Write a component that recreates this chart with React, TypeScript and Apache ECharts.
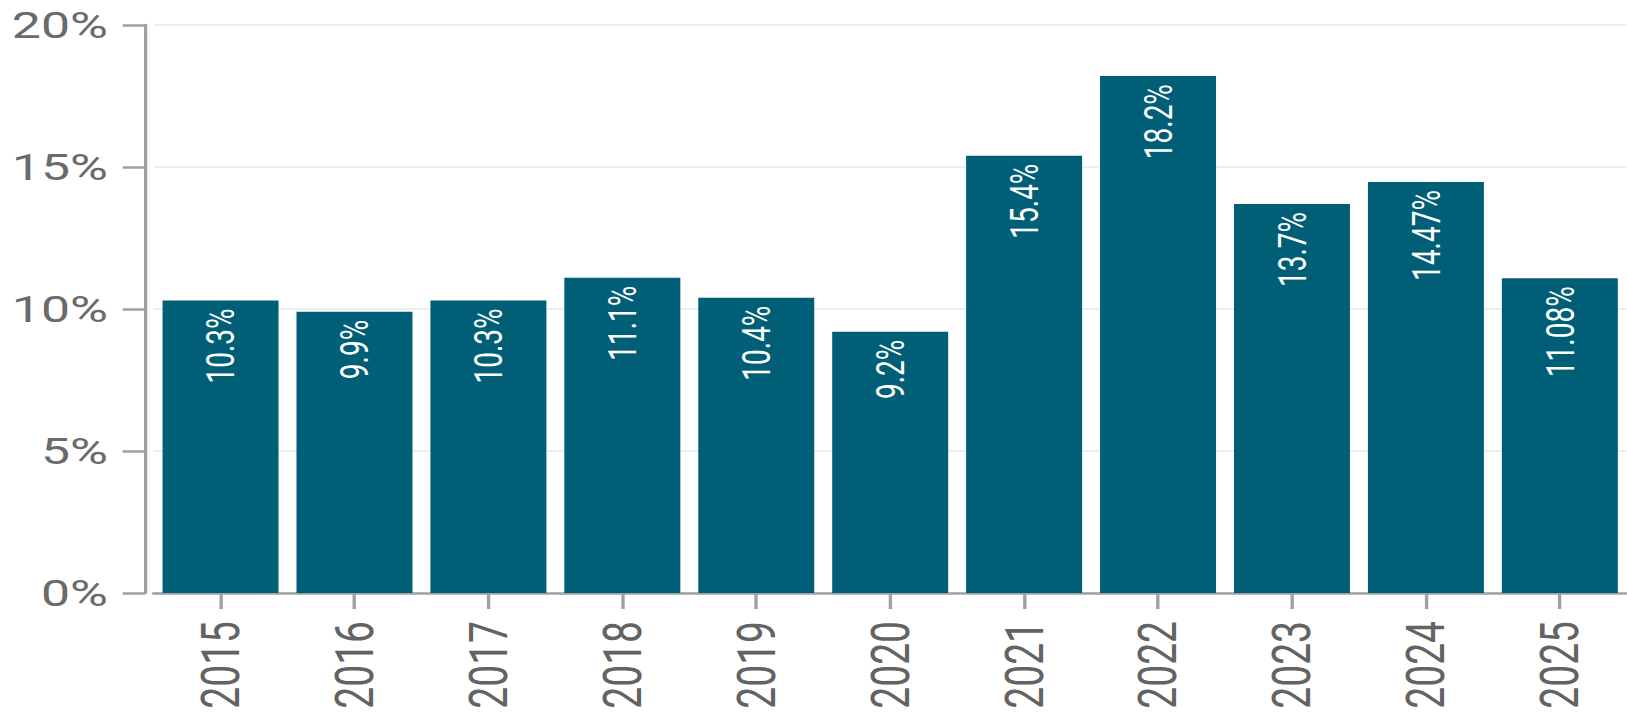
import React, { useEffect, useRef } from "react";
import * as echarts from "echarts";

const categories = ["2015", "2016", "2017", "2018", "2019", "2020", "2021", "2022", "2023", "2024", "2025"];
const values = [10.3, 9.9, 10.3, 11.1, 10.4, 9.2, 15.4, 18.2, 13.7, 14.47, 11.08];
const yTicks = { min: 0, max: 20, interval: 5 };

const SX = 1.4;
const SCREEN_W = 1627;
const SCREEN_H = 715;

export default function App() {
  const ref = useRef<HTMLDivElement>(null);
  useEffect(() => {
    if (!ref.current) return;
    const chart = echarts.init(ref.current, undefined, { renderer: "svg" });
    chart.setOption({
      animation: false,
      textStyle: { fontFamily: "Roboto" },
      grid: { left: 109.7, right: -1.3, top: 25, bottom: 122, containLabel: false },
      xAxis: {
        type: "category",
        data: categories,
        axisLine: { show: true, lineStyle: { color: "#a0a0a0", width: 2.5 } },
        axisTick: { show: true, alignWithLabel: true, length: 16, lineStyle: { color: "#a0a0a0", width: 2.4 } },
        axisLabel: { rotate: 90, margin: 28, fontSize: 39, color: "#636363", fontFamily: "Roboto" },
        splitLine: { show: false },
      },
      yAxis: {
        type: "value",
        min: yTicks.min,
        max: yTicks.max,
        interval: yTicks.interval,
        offset: 6.1,
        axisLine: { show: true, lineStyle: { color: "#a0a0a0", width: 2.3 } },
        axisTick: { show: true, length: 16, lineStyle: { color: "#a0a0a0", width: 2.5 } },
        axisLabel: { formatter: "{value}%", margin: 26.5, fontSize: 37, color: "#6a6a6a", fontFamily: "Roboto" },
        splitLine: { show: true, lineStyle: { color: "#eeeeee", width: 2 } },
      },
      series: [
        {
          type: "bar",
          data: values,
          barCategoryGap: "13.4%",
          itemStyle: { color: "#005f77" },
          label: {
            show: true,
            position: "insideTop",
            rotate: 90,
            align: "right",
            verticalAlign: "middle",
            distance: 8,
            color: "#ffffff",
            fontSize: 28,
            fontFamily: "Roboto",
            formatter: (p: any) => `${p.value}%`,
          },
        },
      ],
    });
    return () => chart.dispose();
  }, []);
  return (
    <div style={{ position: "absolute", left: 0, top: 0, width: SCREEN_W, height: SCREEN_H, overflow: "hidden", background: "#ffffff" }}>
      <div
        ref={ref}
        style={{
          width: SCREEN_W / SX,
          height: SCREEN_H,
          transform: `scaleX(${SX})`,
          transformOrigin: "0 0",
        }}
      />
    </div>
  );
}
